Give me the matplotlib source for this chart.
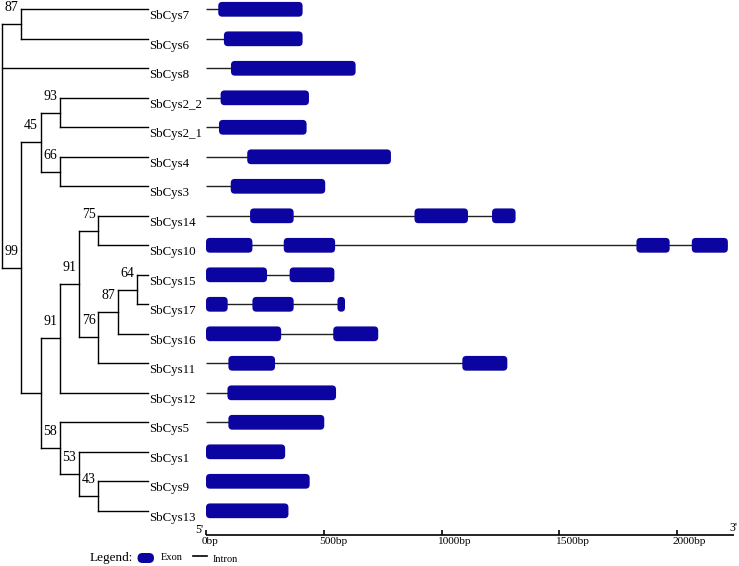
import re

import matplotlib.pyplot as plt
from matplotlib.patches import FancyBboxPatch

plt.rcParams['font.family'] = ['Liberation Serif', 'DejaVu Serif']

# drzewo (bootstrap przy węzłach wewnętrznych)
newick = ("((SbCys7,SbCys6)87,SbCys8,(((SbCys2_2,SbCys2_1)93,(SbCys4,SbCys3)66)45,"
          "((((SbCys14,SbCys10)75,(((SbCys15,SbCys17)64,SbCys16)87,SbCys11)76)91,"
          "SbCys12)91,(SbCys5,(SbCys1,(SbCys9,SbCys13)43)53)58))99);")

genes = ["SbCys7", "SbCys6", "SbCys8", "SbCys2_2", "SbCys2_1", "SbCys4", "SbCys3",
         "SbCys14", "SbCys10", "SbCys15", "SbCys17", "SbCys16", "SbCys11",
         "SbCys12", "SbCys5", "SbCys1", "SbCys9", "SbCys13"]

# eksony (początek, koniec) w bp
exons = [
    [(52, 410)],
    [(76, 410)],
    [(106, 635)],
    [(62, 437)],
    [(55, 427)],
    [(175, 785)],
    [(105, 506)],
    [(187, 372), (885, 1112), (1214, 1314)],
    [(0, 197), (330, 548), (1827, 1968), (2062, 2215)],
    [(0, 259), (355, 545)],
    [(0, 92), (197, 372), (558, 590)],
    [(0, 319), (540, 731)],
    [(95, 293), (1088, 1279)],
    [(91, 552)],
    [(95, 502)],
    [(0, 336)],
    [(0, 440)],
    [(0, 350)],
]

ticks_bp = [0, 500, 1000, 1500, 2000]
tick_labels = ["0bp", "500bp", "1000bp", "1500bp", "2000bp"]
scale_end = 2240

W, H = 739, 566
row_px = 29.5
row0_px = 9.3
px_per_bp = 0.2356
bp0_px = 206
step_px = 19.25
exon_col = '#0b04a0'


def parse(s):
    pos = 0

    def node():
        nonlocal pos
        kids = []
        if s[pos] == "(":
            pos += 1
            kids.append(node())
            while s[pos] == ",":
                pos += 1
                kids.append(node())
            pos += 1
        m = re.match(r"[^,();]*", s[pos:])
        pos += m.end()
        return {"kids": kids, "name": m.group()}

    return node()


def layout(n, depth):
    n["depth"] = depth
    if not n["kids"]:
        n["y"] = genes.index(n["name"])
    else:
        for k in n["kids"]:
            layout(k, depth + 1)
        n["y"] = (n["kids"][0]["y"] + n["kids"][-1]["y"]) / 2


fig = plt.figure(figsize=(W / 100, H / 100), dpi=100)
ylim = ((H - row0_px) / row_px, -row0_px / row_px)

# --- drzewo ---
ax_t = fig.add_axes([0, 0, 200 / W, 1])
ax_t.set_xlim(-2 / step_px, 198 / step_px)
ax_t.set_ylim(*ylim)
ax_t.axis('off')

tree = parse(newick)
layout(tree, 0)
leaf_x = (148 - 2) / step_px


def draw(n):
    if not n["kids"]:
        return
    x = n["depth"]
    ax_t.plot([x, x], [n["kids"][0]["y"], n["kids"][-1]["y"]], color='k', lw=1.0,
              solid_capstyle='projecting')
    for k in n["kids"]:
        kx = k["depth"] if k["kids"] else leaf_x
        ax_t.plot([x, kx], [k["y"], k["y"]], color='k', lw=1.0, solid_capstyle='projecting')
        if k["kids"] and k["name"]:
            ax_t.text((x + kx) / 2, k["y"] - 0.56, k["name"], ha='center', va='center',
                      fontsize=10)
        if not k["kids"]:
            ax_t.text(leaf_x + 0.05, k["y"] + 0.34, k["name"], ha='left', va='baseline',
                      fontsize=9.3)
        draw(k)


draw(tree)

# --- struktura genów ---
ax_g = fig.add_axes([200 / W, 0, (W - 200) / W, 1])
ax_g.set_xlim(-(bp0_px - 200) / px_per_bp, (W - bp0_px) / px_per_bp)
ax_g.set_ylim(*ylim)
ax_g.axis('off')

r_bp = 4 / px_per_bp
asp = px_per_bp / row_px
for i, ex in enumerate(exons):
    ax_g.plot([0, ex[-1][1] - 5], [i, i], color='#222222', lw=1.0, zorder=1,
              solid_capstyle='butt')
    for s, e in ex:
        r = min(r_bp, (e - s) / 2)
        ax_g.add_patch(FancyBboxPatch((s, i - 0.25), e - s, 0.5,
                                      boxstyle=f"round,pad=0,rounding_size={r}",
                                      mutation_aspect=asp, fc=exon_col, ec='none',
                                      zorder=2))

axis_y = (535 - row0_px) / row_px
ax_g.plot([0, scale_end], [axis_y, axis_y], color='k', lw=1.2, solid_capstyle='butt')
ax_g.vlines(ticks_bp, axis_y - 0.17, axis_y, color='k', lw=1.2)
for t, lab in zip(ticks_bp, tick_labels):
    ax_g.text(t - 19, axis_y + 0.08, lab, ha='left', va='top', fontsize=8.2)
ax_g.text(-12, axis_y + 0.02, "5'", ha='right', va='bottom', fontsize=8.5)
ax_g.text(scale_end + 16, axis_y - 0.02, "3'", ha='right', va='bottom', fontsize=8.5)

# --- legenda ---
ax_l = fig.add_axes([0, 0, 1, 1])
ax_l.set_xlim(0, W)
ax_l.set_ylim(H, 0)
ax_l.axis('off')
ax_l.text(90, 558, "Legend:", ha='left', va='center', fontsize=9.5)
ax_l.add_patch(FancyBboxPatch((137.5, 553), 16.5, 10, boxstyle="round,pad=0,rounding_size=5",
                              fc=exon_col, ec='none'))
ax_l.text(161, 558, "Exon", ha='left', va='center', fontsize=7.5)
ax_l.plot([193, 207], [556, 556], color='k', lw=1.2)
ax_l.text(213, 559, "Intron", ha='left', va='center', fontsize=7.5)

fig.savefig("out.png", dpi=100, facecolor='white')
